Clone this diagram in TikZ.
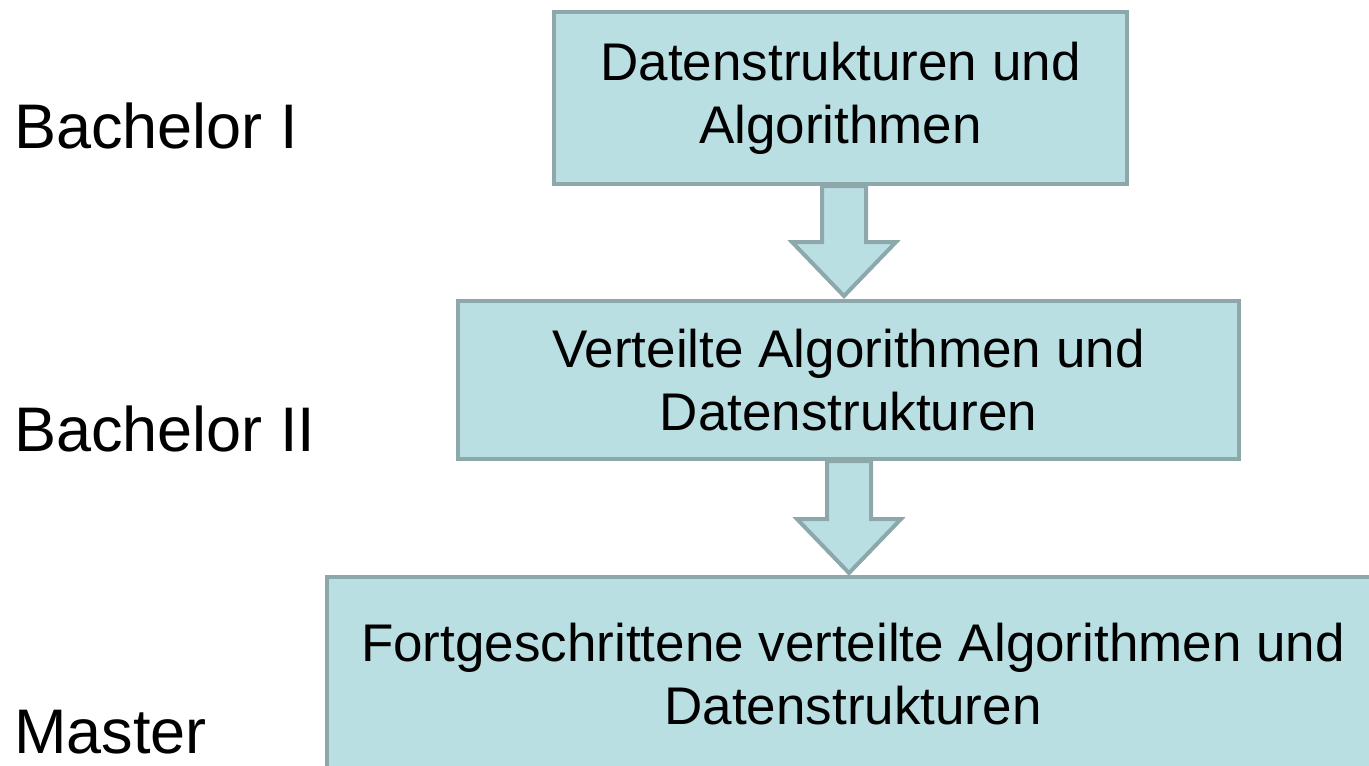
\documentclass[tikz,border=0pt]{standalone}
\usepackage{fontspec}
\setmainfont{Liberation Sans}
\usetikzlibrary{calc}
\definecolor{boxfill}{HTML}{BADFE3}
\definecolor{boxline}{HTML}{8CA8AB}
\tikzset{
  course/.style={draw=boxline, fill=boxfill, line width=4pt, align=center,
    inner sep=0pt, font=\fontsize{53}{63}\selectfont},
  level/.style={anchor=base west, inner sep=0pt, font=\fontsize{63}{72}\selectfont},
  fatarrow/.style={draw=boxline, fill=boxfill, line width=4pt, miter limit=10,
    to path={let \p1=(\tikztostart), \p2=(\tikztotarget) in
      (\x2-22pt,\y1) -- (\x2-22pt,\y2+54pt) -- (\x2-52pt,\y2+54pt) -- (\x2,\y2)
      -- (\x2+52pt,\y2+54pt) -- (\x2+22pt,\y2+54pt) -- (\x2+22pt,\y1) -- cycle}}
}
\begin{document}
\begin{tikzpicture}[x=1pt,y=-1pt]
  \useasboundingbox (0,0) rectangle (1369,766);
  \clip (0,0) rectangle (1369,766);

  % course boxes
  \node[course, minimum width=573pt, minimum height=172pt] (b1) at (840.5,98)
    {Datenstrukturen und\\Algorithmen};
  \node[course, minimum width=781pt, minimum height=158pt] (b2) at (848.5,380)
    {Verteilte Algorithmen und\\Datenstrukturen};
  \node[course, minimum width=1052pt, minimum height=194pt] (b3) at (853,674)
    {Fortgeschrittene verteilte Algorithmen und\\Datenstrukturen};

  % tip points of the block arrows
  \coordinate (t1) at (844,296);
  \coordinate (t2) at (849,573);
  \draw[fatarrow] (b1.south) to (t1);
  \draw[fatarrow] (b2.south) to (t2);

  % study levels
  \node[level] (l1) at (14,148) {Bachelor I};
  \node[level] (l2) at (14,451) {Bachelor II};
  \node[level] (l3) at (14,753) {Master};
\end{tikzpicture}
\end{document}
